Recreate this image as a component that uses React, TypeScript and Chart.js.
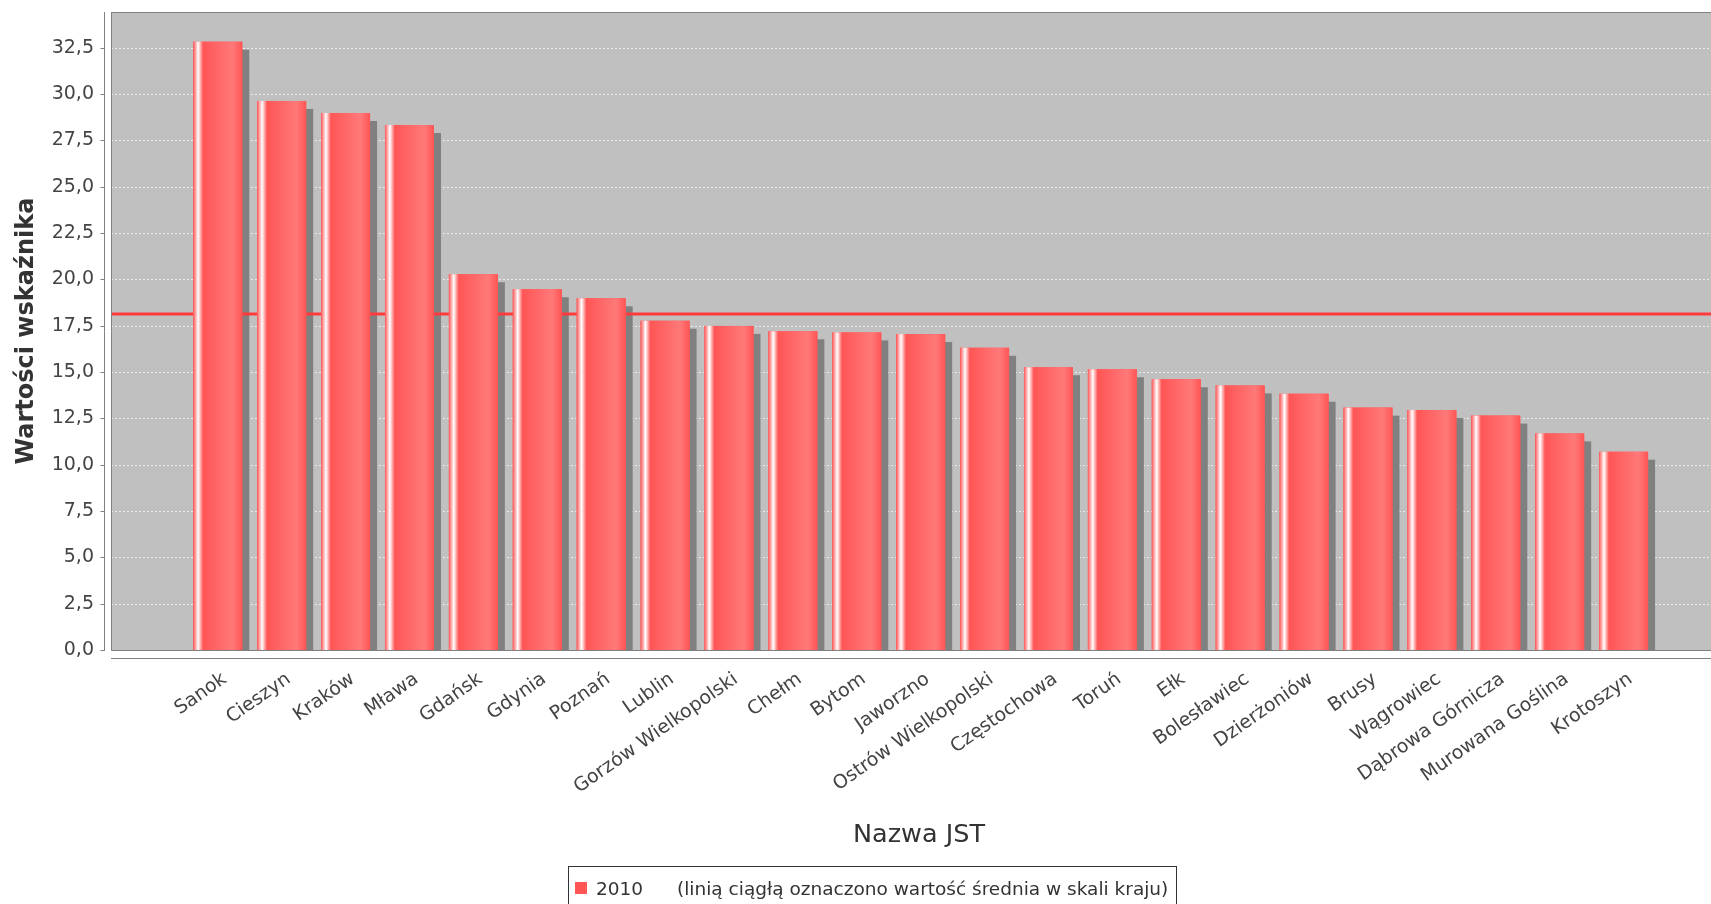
import React, { useEffect, useRef } from 'react';
import { Chart, registerables } from 'chart.js';

Chart.register(...registerables);

// ---- data ----
const CATEGORIES = [
  'Sanok', 'Cieszyn', 'Kraków', 'Mława', 'Gdańsk', 'Gdynia', 'Poznań', 'Lublin',
  'Gorzów Wielkopolski', 'Chełm', 'Bytom', 'Jaworzno', 'Ostrów Wielkopolski',
  'Częstochowa', 'Toruń', 'Ełk', 'Bolesławiec', 'Dzierżoniów', 'Brusy', 'Wągrowiec',
  'Dąbrowa Górnicza', 'Murowana Goślina', 'Krotoszyn',
];
const VALUES_2010 = [
  32.83, 29.63, 28.98, 28.33, 20.28, 19.47, 18.98, 17.77,
  17.49, 17.2, 17.14, 17.05, 16.31,
  15.26, 15.15, 14.61, 14.28, 13.83, 13.08, 12.95,
  12.65, 11.69, 10.7,
];
const NATIONAL_MEAN = 18.13;
const Y_TICKS = [0, 2.5, 5, 7.5, 10, 12.5, 15, 17.5, 20, 22.5, 25, 27.5, 30, 32.5];
const SERIES_LABEL = '2010';
const LEGEND_NOTE = '(linią ciągłą oznaczono wartość średnia w skali kraju)';
const X_TITLE = 'Nazwa JST';
const Y_TITLE = 'Wartości wskaźnika';

// ---- axis ranges ----
const Y_MIN = 0;
const Y_MAX = 34.43;
const X_MIN = -1.671;
const X_MAX = 23.368;

// ---- styles ----
const FONT = '"DejaVu Sans", sans-serif';
const BAR_COLOR = '#ff5555';
const BAR_BRIGHT = '#ff7979';
const PLOT_BG = '#c0c0c0';
const W = 1711;
const H = 904;

const decorPlugin = {
  id: 'decor',
  beforeDraw(chart: any) {
    const { ctx, chartArea: a } = chart;
    const ys = chart.scales.y;
    ctx.save();
    ctx.fillStyle = '#ffffff';
    ctx.fillRect(0, 0, chart.width, chart.height);
    ctx.fillStyle = PLOT_BG;
    ctx.fillRect(a.left, a.top, a.right - a.left, a.bottom - a.top);
    ctx.strokeStyle = '#ebebeb';
    ctx.lineWidth = 1;
    ctx.setLineDash([2, 2]);
    Y_TICKS.forEach((v) => {
      const y = Math.round(ys.getPixelForValue(v)) + 0.5;
      ctx.beginPath();
      ctx.moveTo(a.left, y);
      ctx.lineTo(a.right, y);
      ctx.stroke();
    });
    ctx.restore();
  },
  beforeDatasetsDraw(chart: any) {
    const { ctx, chartArea: a } = chart;
    const ys = chart.scales.y;
    const meta = chart.getDatasetMeta(0);
    ctx.save();
    ctx.beginPath();
    ctx.rect(a.left, a.top, a.right - a.left, a.bottom - a.top);
    ctx.clip();
    ctx.fillStyle = '#808080';
    meta.data.forEach((el: any) => {
      const { x, y, base, width } = el.getProps(['x', 'y', 'base', 'width'], true);
      ctx.fillRect(x - width / 2 + 7, y + 8, width, base - y);
    });
    const my = ys.getPixelForValue(NATIONAL_MEAN);
    ctx.strokeStyle = '#ff3a3a';
    ctx.lineWidth = 3;
    ctx.beginPath();
    ctx.moveTo(a.left, my);
    ctx.lineTo(a.right, my);
    ctx.stroke();
    ctx.restore();
  },
  afterDatasetsDraw(chart: any) {
    const { ctx, chartArea: a } = chart;
    const ys = chart.scales.y;
    const meta = chart.getDatasetMeta(0);
    ctx.save();
    meta.data.forEach((el: any) => {
      const { x, y, base, width } = el.getProps(['x', 'y', 'base', 'width'], true);
      const left = x - width / 2;
      const g = ctx.createLinearGradient(left, 0, left + width, 0);
      g.addColorStop(0, BAR_COLOR);
      g.addColorStop(0.1, '#ffffff');
      g.addColorStop(0.2, BAR_COLOR);
      g.addColorStop(0.8, BAR_BRIGHT);
      g.addColorStop(1, BAR_COLOR);
      ctx.fillStyle = g;
      ctx.fillRect(left, y, width, base - y);
    });
    // plot outline
    ctx.strokeStyle = '#808080';
    ctx.lineWidth = 1;
    ctx.beginPath();
    ctx.moveTo(a.right, a.top + 0.5);
    ctx.lineTo(a.left + 0.5, a.top + 0.5);
    ctx.lineTo(a.left + 0.5, a.bottom + 0.5);
    ctx.lineTo(a.right, a.bottom + 0.5);
    ctx.stroke();
    // y axis line + tick marks
    const axX = a.left - 6.5;
    ctx.beginPath();
    ctx.moveTo(axX, a.top);
    ctx.lineTo(axX, a.bottom + 1);
    Y_TICKS.forEach((v) => {
      const y = Math.round(ys.getPixelForValue(v)) + 0.5;
      ctx.moveTo(axX - 4, y);
      ctx.lineTo(axX, y);
    });
    ctx.stroke();
    // x axis line
    ctx.beginPath();
    ctx.moveTo(a.left, a.bottom + 8.5);
    ctx.lineTo(a.right, a.bottom + 8.5);
    ctx.stroke();
    ctx.restore();
  },
  afterDraw(chart: any) {
    const { ctx } = chart;
    ctx.save();
    // x axis title
    ctx.fillStyle = '#333333';
    ctx.font = `25.5px ${FONT}`;
    ctx.textAlign = 'center';
    ctx.textBaseline = 'middle';
    ctx.fillText(X_TITLE, 919, 835);
    // legend
    ctx.strokeStyle = '#333333';
    ctx.lineWidth = 1;
    ctx.strokeRect(568.5, 866.5, 608, 60);
    ctx.fillStyle = BAR_COLOR;
    ctx.fillRect(575, 882, 12, 12);
    ctx.fillStyle = '#333333';
    ctx.font = `18.5px ${FONT}`;
    ctx.textBaseline = 'middle';
    ctx.textAlign = 'left';
    ctx.fillText(SERIES_LABEL, 596, 890);
    ctx.fillText(LEGEND_NOTE, 677, 890);
    ctx.restore();
  },
};

export default function App() {
  const ref = useRef<HTMLCanvasElement | null>(null);

  useEffect(() => {
    if (!ref.current) return;
    const chart = new Chart(ref.current, {
      type: 'bar',
      data: {
        datasets: [
          {
            label: SERIES_LABEL,
            data: VALUES_2010.map((v, i) => ({ x: i, y: v })),
            backgroundColor: BAR_COLOR,
            borderWidth: 0,
            barPercentage: 0.767,
            categoryPercentage: 1,
          },
        ],
      },
      options: {
        responsive: false,
        animation: false,
        devicePixelRatio: 1,
        layout: { padding: { top: 12, left: 0, right: 0, bottom: 0 } },
        plugins: {
          legend: { display: false },
          tooltip: { enabled: false },
        },
        scales: {
          x: {
            type: 'linear',
            offset: false,
            min: X_MIN,
            max: X_MAX,
            afterBuildTicks: (s: any) => {
              s.ticks = CATEGORIES.map((_, i) => ({ value: i }));
            },
            afterFit: (s: any) => {
              s.height = 254;
              s.paddingLeft = 0;
              s.paddingRight = 0;
            },
            ticks: {
              autoSkip: false,
              minRotation: 35,
              maxRotation: 35,
              padding: 10,
              labelOffset: 7,
              color: '#444444',
              font: { family: FONT, size: 19 },
              callback: (v: any) => CATEGORIES[Math.round(Number(v))] ?? '',
            },
            grid: { display: false, offset: false },
            border: { display: false },
          },
          y: {
            type: 'linear',
            min: Y_MIN,
            max: Y_MAX,
            afterBuildTicks: (s: any) => {
              s.ticks = Y_TICKS.map((v) => ({ value: v }));
            },
            afterFit: (s: any) => {
              s.width = 111;
              s.paddingTop = 0;
              s.paddingBottom = 0;
            },
            ticks: {
              padding: 17,
              color: '#444444',
              font: { family: FONT, size: 19 },
              callback: (v: any) => Number(v).toFixed(1).replace('.', ','),
            },
            grid: { display: false, drawTicks: false },
            border: { display: false },
            title: {
              display: true,
              text: Y_TITLE,
              color: '#333333',
              font: { family: FONT, size: 24, weight: 'bold' },
              padding: { top: 12, bottom: 0 },
            },
          },
        },
      },
      plugins: [decorPlugin],
    } as any);
    return () => chart.destroy();
  }, []);

  return (
    <div style={{ position: 'fixed', left: 0, top: 0, width: W, height: H, background: '#fff' }}>
      <canvas ref={ref} width={W} height={H} style={{ display: 'block' }} />
    </div>
  );
}
